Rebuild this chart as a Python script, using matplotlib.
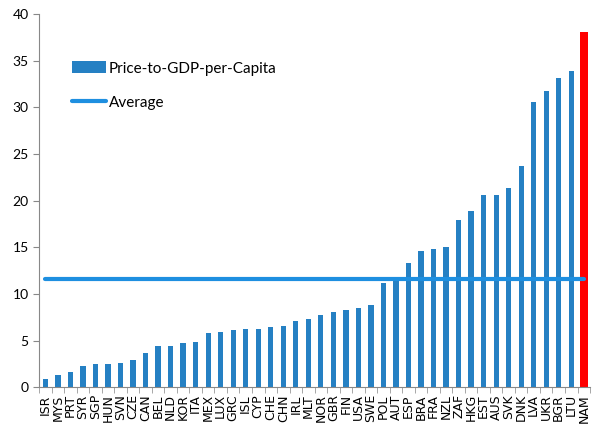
import numpy as np
import matplotlib
matplotlib.use("Agg")
import matplotlib.pyplot as plt
from matplotlib.ticker import MultipleLocator

# countries, sorted by price-to-GDP-per-capita
countries = ["ISR", "MYS", "PRT", "SYR", "SGP", "HUN", "SVN", "CZE", "CAN", "BEL",
             "NLD", "KOR", "ITA", "MEX", "LUX", "GRC", "ISL", "CYP", "CHE", "CHN",
             "IRL", "MLT", "NOR", "GBR", "FIN", "USA", "SWE", "POL", "AUT", "ESP",
             "BRA", "FRA", "NZL", "ZAF", "HKG", "EST", "AUS", "SVK", "DNK", "LVA",
             "UKR", "BGR", "LTU", "NAM"]
ratio = [0.9, 1.3, 1.6, 2.3, 2.5, 2.5, 2.6, 2.9, 3.7, 4.4,
         4.4, 4.7, 4.8, 5.8, 5.9, 6.1, 6.2, 6.2, 6.4, 6.6,
         7.1, 7.3, 7.7, 8.1, 8.3, 8.5, 8.8, 11.2, 11.8, 13.3,
         14.6, 14.8, 15.0, 17.9, 18.9, 20.6, 20.6, 21.3, 23.7, 30.6,
         31.7, 33.1, 33.9, 38.1]
highlight = "NAM"
average = 11.55

fig = plt.figure(figsize=(5.93, 4.38), dpi=100)
ax = fig.add_axes([0.066, 0.116, 0.929, 0.852])

x = np.arange(len(countries))
vals = np.array(ratio)
is_hl = np.array([c == highlight for c in countries])

bars = ax.bar(x[~is_hl], vals[~is_hl], width=0.42, color="#2580c3")
ax.bar(x[is_hl], vals[is_hl], width=0.6, color="#ff0000")
line, = ax.plot(x, np.full(len(x), average), color="#1e8fe0", lw=3,
                solid_capstyle="round")

ax.set_xlim(-0.5, len(x) - 0.5)
ax.set_ylim(0, 40)
ax.yaxis.set_major_locator(MultipleLocator(5))
ax.set_xticks(x)
ax.set_xticklabels(countries, rotation=90, fontsize=9, family="DejaVu Sans")
ax.set_xticks(np.arange(-0.5, len(x), 1), minor=True)
ax.tick_params(axis="x", which="major", length=0, pad=5)
ax.tick_params(axis="x", which="minor", length=4, color="#999999")
ax.tick_params(axis="y", length=4, color="#888888", labelsize=10)
for lab in ax.get_yticklabels():
    lab.set_family(["Lato", "DejaVu Sans"])

for s in ["top", "right"]:
    ax.spines[s].set_visible(False)
ax.spines["left"].set_color("#888888")
ax.spines["bottom"].set_color("#888888")

ax.legend([bars, line], ["Price-to-GDP-per-Capita", "Average"],
          loc="upper left", bbox_to_anchor=(0.035, 0.91), frameon=False,
          prop={"family": "Lato", "size": 11}, handlelength=2.2,
          handleheight=0.8, handletextpad=0.2, labelspacing=1.3)

fig.savefig("out.png", dpi=100)
